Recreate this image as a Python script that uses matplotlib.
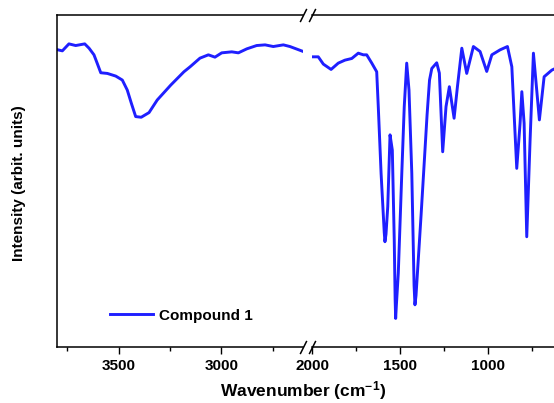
import matplotlib
matplotlib.use("Agg")
import matplotlib.pyplot as plt
from matplotlib.ticker import MultipleLocator

# IR spectrum of compound 1.
# high-wavenumber segment, left of the axis break (3800-2600 cm-1)
wn_high = [3795, 3774, 3742, 3709, 3665, 3644, 3620, 3604, 3587, 3555, 3514, 3482,
           3458, 3438, 3417, 3390, 3352, 3312, 3246, 3182, 3152, 3104, 3063, 3031,
           2998, 2949, 2917, 2876, 2828, 2787, 2747, 2698, 2666, 2601]
int_high = [89.5, 89.2, 91.3, 90.8, 91.3, 90.0, 88.0, 85.4, 82.6, 82.4, 81.6, 80.4,
            77.4, 73.4, 69.4, 69.2, 70.6, 74.4, 78.9, 82.9, 84.4, 87.0, 88.0, 87.3,
            88.6, 88.9, 88.6, 89.8, 90.8, 91.0, 90.5, 91.0, 90.5, 89.0]

# fingerprint segment, right of the break (2000-600 cm-1)
wn_low = [2000, 1966, 1937, 1893, 1852, 1814, 1775, 1738, 1709, 1690,
          1661, 1633, 1624, 1608, 1590, 1586, 1580, 1570, 1557, 1544,
          1533, 1528, 1525, 1521, 1510, 1490, 1476, 1462, 1449, 1433,
          1420, 1415, 1409, 1398, 1380, 1363, 1346, 1332, 1319, 1291,
          1276, 1257, 1238, 1219, 1192, 1173, 1148, 1120, 1082, 1044,
          1006, 977, 930, 888, 863, 835, 816, 806, 793, 778,
          759, 740, 706, 679, 635, 611]
int_low = [87.4, 87.4, 85.2, 83.6, 85.5, 86.4, 86.9, 88.5, 88.0, 88.0,
           85.5, 82.9, 72.4, 52.3, 34.5, 31.7, 34.0, 42.3, 63.9, 59.3,
           32.2, 14.5, 8.6, 12.5, 22.2, 52.3, 72.4, 85.5, 77.4, 52.3,
           18.5, 12.7, 15.5, 24.7, 39.8, 54.8, 69.9, 80.4, 83.9, 85.6,
           82.5, 58.8, 72.4, 78.4, 68.9, 78.4, 90.0, 82.4, 90.5, 89.0,
           83.0, 88.0, 89.5, 90.5, 84.4, 53.8, 67.4, 76.9, 67.4, 33.2,
           62.3, 88.5, 68.4, 81.4, 83.4, 84.0]

label = "Compound 1"
line_color = "#1f1fff"

plt.rcParams["font.family"] = ["Liberation Sans", "DejaVu Sans"]
plt.rcParams["font.weight"] = "bold"
plt.rcParams["mathtext.fontset"] = "custom"
plt.rcParams["mathtext.bf"] = "Liberation Sans:bold"
plt.rcParams["mathtext.rm"] = "Liberation Sans:bold"
plt.rcParams["mathtext.default"] = "bf"

fig = plt.figure(figsize=(5.54, 4.03), dpi=100)
ax1 = fig.add_axes([0.1029, 0.1390, 0.4449, 0.8238])
ax2 = fig.add_axes([0.5637, 0.1390, 0.4435, 0.8238])

ax1.plot(wn_high, int_high, color=line_color, lw=2.1, label=label)
ax2.plot(wn_low, int_low, color=line_color, lw=2.1)

ax1.set_xlim(3800, 2600)
ax2.set_xlim(2000, 600)
for ax in (ax1, ax2):
    ax.set_ylim(0, 100)
    ax.set_yticks([])
    ax.xaxis.set_major_locator(MultipleLocator(500))
    ax.xaxis.set_minor_locator(MultipleLocator(250))
    ax.tick_params(axis="x", which="major", direction="out", length=5, width=1,
                   pad=3.5, labelsize=11)
    ax.tick_params(axis="x", which="minor", direction="out", length=3, width=1)
    for sp in ax.spines.values():
        sp.set_linewidth(1.1)

ax1.spines["right"].set_visible(False)
ax2.spines["left"].set_visible(False)
ax2.spines["right"].set_visible(False)

# "//" break marks on top and bottom axis lines
brk = dict(marker=[(-1, -2), (1, 2)], markersize=9.5, linestyle="none",
           color="k", mec="k", mew=1.1, clip_on=False)
ax1.plot([1, 1], [0, 1], transform=ax1.transAxes, **brk)
ax2.plot([0, 0], [0, 1], transform=ax2.transAxes, **brk)

ax1.legend(loc="center left", bbox_to_anchor=(0.215, 0.094), frameon=False,
           handlelength=2.8, handletextpad=0.4, borderpad=0, borderaxespad=0,
           prop={"size": 11, "weight": "bold"})

fig.text(0.547, 0.032, "Wavenumber (cm$^{-1}$)", ha="center", va="center",
         fontsize=12.5, fontweight="bold")
fig.text(0.034, 0.546, "Intensity (arbit. units)", ha="center", va="center",
         rotation=90, fontsize=11, fontweight="bold")

fig.savefig("out.png", dpi=100)
